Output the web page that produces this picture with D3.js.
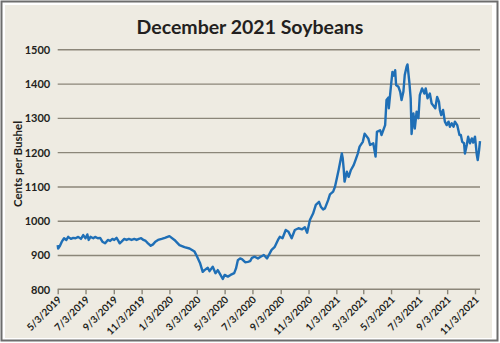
<!DOCTYPE html>
<html><head><meta charset="utf-8">
<script src="https://cdn.jsdelivr.net/npm/d3@7"></script>
<style>
html,body{margin:0;padding:0;background:#fff;}
svg{display:block;}
text{font-family:Lato,"Open Sans",sans-serif;fill:#231f20;font-weight:700;}
</style></head>
<body>
<svg id="chart" width="500" height="343"></svg>
<script>
const titleText = "December 2021 Soybeans";
const yAxisTitle = "Cents per Bushel";
const yTicks = [800, 900, 1000, 1100, 1200, 1300, 1400, 1500];
const xTickDates = ["2019-05-03","2019-07-03","2019-09-03","2019-11-03","2020-01-03","2020-03-03","2020-05-03","2020-07-03","2020-09-03","2020-11-03","2021-01-03","2021-03-03","2021-05-03","2021-07-03","2021-09-03","2021-11-03"];
const dates = ["2019-05-03","2019-05-04","2019-05-08","2019-05-12","2019-05-17","2019-05-22","2019-05-26","2019-06-01","2019-06-06","2019-06-11","2019-06-17","2019-06-23","2019-06-28","2019-07-03","2019-07-07","2019-07-10","2019-07-14","2019-07-20","2019-07-24","2019-07-30","2019-08-04","2019-08-09","2019-08-15","2019-08-21","2019-08-26","2019-08-31","2019-09-04","2019-09-09","2019-09-13","2019-09-16","2019-09-20","2019-09-26","2019-10-01","2019-10-06","2019-10-12","2019-10-18","2019-10-23","2019-10-28","2019-11-02","2019-11-07","2019-11-12","2019-11-17","2019-11-23","2019-11-28","2019-12-03","2019-12-09","2019-12-17","2019-12-24",
"2020-01-03","2020-01-14","2020-01-25","2020-02-05","2020-02-16","2020-02-27","2020-03-03","2020-03-10","2020-03-16","2020-03-20","2020-03-27","2020-03-31","2020-04-07","2020-04-13","2020-04-18","2020-04-24","2020-04-29","2020-05-03","2020-05-10","2020-05-16","2020-05-24","2020-05-28","2020-06-01","2020-06-06","2020-06-10","2020-06-17","2020-06-23","2020-06-28","2020-07-02","2020-07-08","2020-07-15","2020-07-21","2020-07-28","2020-08-04","2020-08-14","2020-08-21","2020-08-28","2020-09-01","2020-09-07","2020-09-14","2020-09-20","2020-09-27","2020-10-04","2020-10-12","2020-10-20","2020-10-26","2020-10-31","2020-11-06","2020-11-13","2020-11-19","2020-11-26","2020-11-30","2020-12-05","2020-12-09","2020-12-16","2020-12-20","2020-12-27","2020-12-31",
"2021-01-04","2021-01-08","2021-01-13","2021-01-15","2021-01-17","2021-01-19","2021-01-21","2021-01-26","2021-01-30","2021-02-04","2021-02-10","2021-02-14","2021-02-19","2021-02-23","2021-03-02","2021-03-06","2021-03-14","2021-03-18","2021-03-25","2021-03-30","2021-04-02","2021-04-09","2021-04-12","2021-04-20","2021-04-23","2021-04-27","2021-04-28","2021-05-03","2021-05-06","2021-05-09","2021-05-12","2021-05-14","2021-05-19","2021-05-23","2021-05-26","2021-05-30","2021-06-02","2021-06-06","2021-06-08","2021-06-12","2021-06-15","2021-06-17","2021-06-21","2021-06-24","2021-06-28","2021-07-02","2021-07-05","2021-07-10","2021-07-15","2021-07-18","2021-07-22","2021-07-27","2021-07-31","2021-08-03","2021-08-08","2021-08-12","2021-08-16","2021-08-18","2021-08-21","2021-08-25","2021-08-29","2021-09-02","2021-09-06","2021-09-09","2021-09-13","2021-09-17","2021-09-20","2021-09-25","2021-09-30","2021-10-03","2021-10-06","2021-10-10","2021-10-12","2021-10-16","2021-10-19","2021-10-23","2021-10-27","2021-10-30","2021-11-03","2021-11-07","2021-11-09","2021-11-12","2021-11-14"];
const prices = [929,919,927,939,949,944,953,947,950,949,953,947,958,949,960,944,953,949,953,949,950,939,934,944,941,947,944,950,941,934,939,947,944,947,944,947,944,947,949,944,941,934,927,931,939,944,947,950,
955,944,929,923,919,910,897,877,851,856,863,853,866,847,856,842,830,842,837,842,847,861,885,890,888,879,880,882,892,895,890,895,900,890,915,924,944,953,949,973,968,949,973,978,975,981,965,1002,1021,1046,1055,1041,1033,1036,1060,1077,1085,1099,1123,
1148,1182,1196,1182,1153,1114,1143,1128,1148,1162,1177,1196,1216,1230,1254,1240,1221,1226,1187,1259,1264,1250,1279,1352,1359,1328,1396,1434,1423,1439,1396,1391,1376,1352,1376,1425,1449,1456,1405,1357,1253,1313,1269,1318,1299,1366,1386,1371,1386,1357,1371,1342,1337,1328,1361,1347,1323,1308,1323,1289,1279,1289,1274,1284,1274,1289,1279,1250,1250,1230,1226,1196,1221,1245,1226,1240,1228,1245,1192,1177,1206,1232];
const xStart = "2019-05-03", xEnd = "2021-11-14";

const parse = d3.timeParse("%Y-%m-%d");
const fmt = d => (d.getMonth()+1) + "/" + d.getDate() + "/" + d.getFullYear();
const data = dates.map((d,i) => ({date: parse(d), value: prices[i]}));

const svg = d3.select("#chart");
// frame
svg.append("rect").attr("x",1.5).attr("y",1.5).attr("width",496).attr("height",339)
  .attr("fill","#fff").attr("stroke","#6d6d6d").attr("stroke-width",2);
svg.append("rect").attr("x",5).attr("y",5).attr("width",487).attr("height",333).attr("fill","#eeebe2");

const x = d3.scaleTime().domain([parse(xStart), parse(xEnd)]).range([57.7, 480]);
const y = d3.scaleLinear().domain([800, 1500]).range([289.3, 49.3]);

// gridlines
const grid = svg.append("g").attr("class","grid")
  .attr("transform","translate(57.7,0)")
  .call(d3.axisLeft(y).tickValues(yTicks.filter(v=>v>800)).tickSize(-(480-57.7)).tickFormat(""));
grid.select(".domain").remove();
grid.selectAll("line").attr("stroke","#8b8679").attr("stroke-width",1.4);

// y labels
const ya = svg.append("g").attr("transform","translate(57.7,0)")
  .call(d3.axisLeft(y).tickValues(yTicks).tickSize(0).tickPadding(7.5).tickFormat(d3.format("d")));
ya.select(".domain").remove();
ya.selectAll("text").attr("font-size",11).style("font-weight",700).attr("fill","#231f20").attr("dy","0.35em");

// x axis
const xa = svg.append("g").attr("transform","translate(0,289.3)")
  .call(d3.axisBottom(x).tickValues(xTickDates.map(parse)).tickSize(5).tickFormat(fmt));
xa.select(".domain").attr("stroke","#8b8679").attr("stroke-width",1.4).attr("d","M57.7,0H480");
xa.selectAll(".tick line").attr("stroke","#8b8679").attr("stroke-width",1.4);
xa.selectAll("text").attr("font-size",10).style("font-weight",700).attr("fill","#231f20")
  .attr("text-anchor","end").attr("dy","0").attr("y",0)
  .attr("transform","translate(4,11) rotate(-45)");

// line
svg.append("path").datum(data)
  .attr("fill","none").attr("stroke","#1f6fb6").attr("stroke-width",2.4).attr("stroke-linejoin","round")
  .attr("d", d3.line().x(d=>x(d.date)).y(d=>y(d.value)));

// title
svg.append("text").attr("x",250).attr("y",34).attr("text-anchor","middle")
  .attr("font-size",19.5).text(titleText);
// y title
svg.append("text").attr("transform","translate(22,164) rotate(-90)").attr("text-anchor","middle")
  .attr("font-size",11.5).text(yAxisTitle);
</script>
</body></html>
